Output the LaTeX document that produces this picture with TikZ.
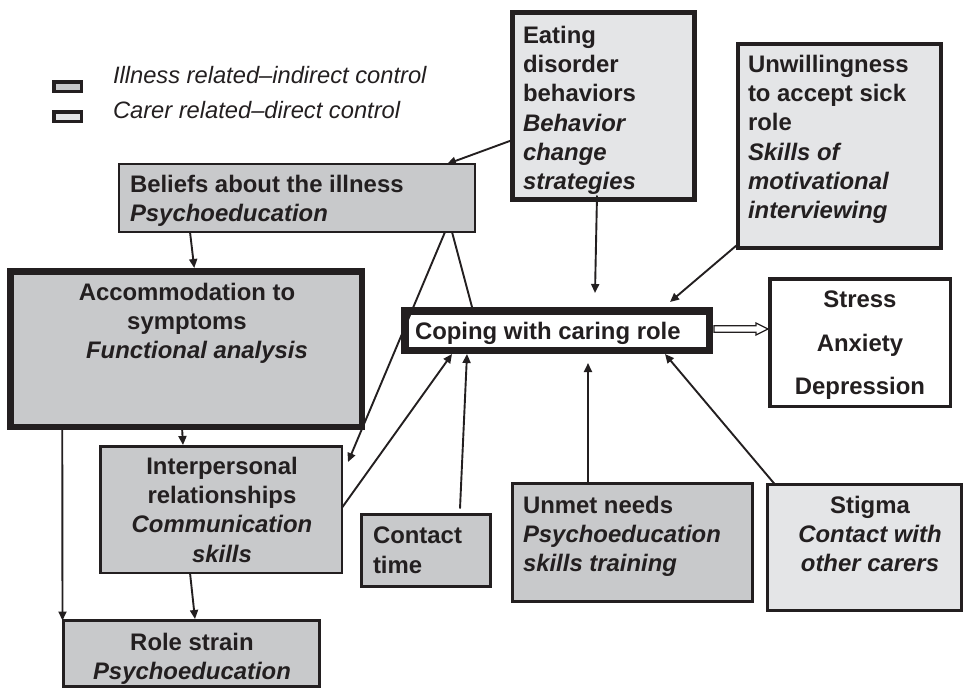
\documentclass[tikz,border=0pt]{standalone}
\usepackage{fontspec}
\setmainfont{Liberation Sans}
\usetikzlibrary{calc,arrows.meta}
\definecolor{ink}{HTML}{231F20}
\definecolor{midgrey}{HTML}{C8C9CB}
\definecolor{palegrey}{HTML}{E4E5E7}
\begin{document}
\begin{tikzpicture}[x=1pt,y=-1pt,
  panel/.style={draw=ink, rectangle, inner sep=0pt, outer sep=0pt},
  mid/.style={panel, fill=midgrey},
  pale/.style={panel, fill=palegrey},
  blank/.style={panel, fill=white},
  txt/.style={inner sep=0pt, outer sep=0pt, text=ink,
    font=\fontsize{23.9}{29.3}\selectfont\bfseries},
  legtxt/.style={inner sep=0pt, outer sep=0pt, text=ink, anchor=north west,
    font=\fontsize{23.7}{29.3}\selectfont\itshape},
  conn/.style={draw=ink, line width=1.9pt, -{Triangle[length=9pt,width=8pt]}},
  plain/.style={draw=ink, line width=1.9pt}
]
\useasboundingbox (0,0) rectangle (965,689);

% ---- legend ----
\node[mid, line width=3.5pt, minimum width=27.5pt, minimum height=9.5pt] (legA) at (67.5,86.5) {};
\node[pale, line width=3.5pt, minimum width=27.5pt, minimum height=9.5pt] (legB) at (67.5,116.5) {};
\node[legtxt] (legAt) at (113,66) {Illness related–indirect control};
\node[legtxt] (legBt) at (113,101) {Carer related–direct control};

% ---- boxes ----
\node[pale, line width=5pt, minimum width=182pt, minimum height=187pt] (eat) at (603.5,106) {};
\node[txt, anchor=north west, align=left] (eatT) at (523,26)
  {Eating\\disorder\\behaviors\\\textit{Behavior}\\\textit{change}\\\textit{strategies}};

\node[pale, line width=4pt, minimum width=203pt, minimum height=204pt] (unw) at (839.5,146) {};
\node[txt, anchor=north west, align=left] (unwT) at (748,55)
  {Unwillingness\\to accept sick\\role\\\textit{Skills of}\\\textit{motivational}\\\textit{interviewing}};

\node[mid, line width=2pt, minimum width=356pt, minimum height=68pt] (bel) at (297,198) {};
\node[txt, anchor=north west, align=left] (belT) at (130,175)
  {Beliefs about the illness\\\textit{Psychoeducation}};

\node[mid, line width=6.5pt, minimum width=351.5pt, minimum height=155.5pt] (acc) at (186,349) {};
\node[txt, anchor=north, align=center] (accT) at (187,283)
  {Accommodation to\\symptoms\\\hspace*{20pt}\textit{Functional analysis}};

\node[blank, line width=7.5pt, minimum width=304.5pt, minimum height=39.5pt] (cope) at (557,330.5) {};
\node[txt, anchor=north west] (copeT) at (415,322) {Coping with caring role};

\node[blank, line width=3.5pt, minimum width=180.5pt, minimum height=127.5pt] (stress) at (860,342.5) {};
\node[txt, anchor=north, align=center, font=\fontsize{23.9}{43.5}\selectfont\bfseries] (stressT) at (860,291)
  {Stress\\Anxiety\\Depression};

\node[mid, line width=2.5pt, minimum width=241.5pt, minimum height=126.5pt] (inter) at (221,509.5) {};
\node[txt, anchor=north, align=center] (interT) at (222,457)
  {Interpersonal\\relationships\\\textit{Communication}\\\textit{skills}};

\node[mid, line width=3pt, minimum width=256pt, minimum height=66pt] (role) at (191.5,653.5) {};
\node[txt, anchor=north, align=center] (roleT) at (192,633)
  {Role strain\\\textit{Psychoeducation}};

\node[mid, line width=3pt, minimum width=129pt, minimum height=72pt] (cont) at (426,550.5) {};
\node[txt, anchor=north west, align=left] (contT) at (373,527) {Contact\\time};

\node[mid, line width=3pt, minimum width=240pt, minimum height=118pt] (unmet) at (632.5,542.5) {};
\node[txt, anchor=north west, align=left] (unmetT) at (523,496)
  {Unmet needs\\\textit{Psychoeducation}\\\textit{skills training}};

\node[pale, line width=3pt, minimum width=194pt, minimum height=126pt] (stig) at (864.5,547.5) {};
\node[txt, anchor=north, align=center] (stigT) at (870,496)
  {Stigma\\\textit{Contact with}\\\textit{other carers}};

% ---- connectors ----
\draw[conn] ($(eat.north west)+(0,127.5)$) -- ($(bel.north west)+(328,0)$);
\draw[conn] ($(eat.south)+(-6.5,-4)$) -- ($(cope.north)+(38,-17.75)$);
\draw[conn] ($(unw.south west)+(-1,-3)$) -- ($(cope.north)+(113,-8.75)$);
\draw[conn] ($(bel.south west)+(71,0)$) -- ($(acc.north west)+(184,-3.25)$);
\draw[conn] ($(bel.south west)+(326,0)$) -- ($(inter.north east)+(6.25,15.75)$);
\draw[plain] ($(bel.south west)+(333,0)$) -- ($(cope.north west)+(68.25,0)$);
\draw[conn] ($(inter.east)+(0,-1.5)$) -- ($(cope.south west)+(47.25,3.75)$);
\draw[conn] ($(cont.north)+(34,-6)$) -- ($(cope.south west)+(62.25,3.75)$);
\draw[conn] ($(unmet.north)+(-44.5,0)$) -- ($(cope.south)+(31,12.75)$);
\draw[conn] ($(stig.north west)+(7.5,0)$) -- ($(cope.south)+(108,3.75)$);
\draw[conn] ($(acc.south)+(-4,0)$) -- ($(inter.north west)+(82.75,-1.25)$);
\draw[conn] ($(inter.south west)+(89.75,0)$) -- ($(role.north west)+(131.5,-1.5)$);
\draw[conn] ($(acc.south west)+(52,0)$) -- ($(role.north west)+(-1,0)$);

% hollow double-shafted arrow from coping to the outcomes box
\coordinate (dA) at ($(cope.east)+(4.75,-1.5)$);
\coordinate (dB) at ($(stress.west)+(-1.75,-13.5)$);
\draw[draw=ink, fill=white, line width=1.3pt, line join=miter]
  ($(dA)+(0,-3.2)$) -- ($(dB)+(-12,-3.2)$) -- ($(dB)+(-12,-6)$) -- (dB)
  -- ($(dB)+(-12,6)$) -- ($(dB)+(-12,3.2)$) -- ($(dA)+(0,3.2)$) -- cycle;
\end{tikzpicture}
\end{document}
